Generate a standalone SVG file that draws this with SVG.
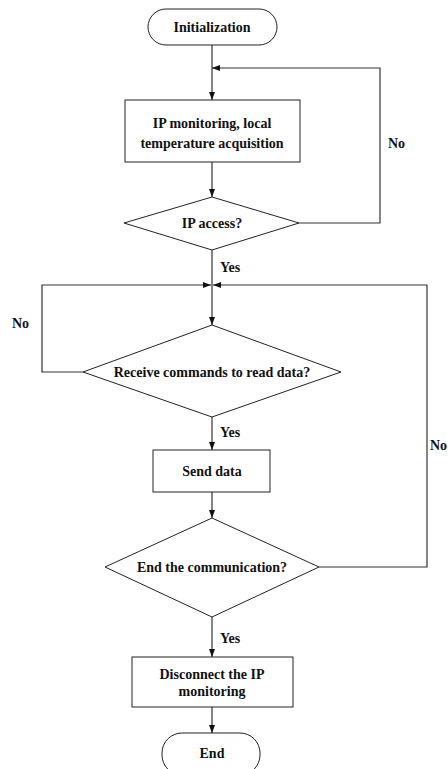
<svg xmlns="http://www.w3.org/2000/svg" width="448" height="769" viewBox="0 0 448 769">
<style>
.shape{fill:#fff;stroke:#222;stroke-width:1}
.t{font-family:"Liberation Serif","Times New Roman",serif;font-size:14px;font-weight:bold;fill:#111;text-anchor:middle}
.l{font-family:"Liberation Serif","Times New Roman",serif;font-size:14px;font-weight:bold;fill:#111}
.c{fill:none;stroke:#333;stroke-width:1.2}
</style>
<defs>
<marker id="ah" markerUnits="userSpaceOnUse" markerWidth="8" markerHeight="8" refX="8" refY="3" orient="auto">
<path d="M0,0 L8,3 L0,6 z" fill="#111"/>
</marker>
</defs>
<rect width="448" height="769" fill="#fff"/>
<g id="connectors">
<path class="c" d="M212,45 V100" marker-end="url(#ah)"/>
<path class="c" d="M299,223 H380 V68 H212" marker-end="url(#ah)"/>
<path class="c" d="M212,162 V197" marker-end="url(#ah)"/>
<path class="c" d="M212,250 V325" marker-end="url(#ah)"/>
<path class="c" d="M83,372 H42 V285 H211" marker-end="url(#ah)"/>
<path class="c" d="M319,567 H427 V285 H213" marker-end="url(#ah)"/>
<path class="c" d="M212,417 V450" marker-end="url(#ah)"/>
<path class="c" d="M212,492 V518" marker-end="url(#ah)"/>
<path class="c" d="M212,617 V657" marker-end="url(#ah)"/>
<path class="c" d="M212,707 V733" marker-end="url(#ah)"/>
<text class="l" x="388" y="148">No</text>
<text class="l" x="220" y="272">Yes</text>
<text class="l" x="12" y="328">No</text>
<text class="l" x="220" y="437">Yes</text>
<text class="l" x="430" y="450" font-size="13">No</text>
<text class="l" x="220" y="643">Yes</text>
</g>
<g id="init">
<rect class="shape" x="148" y="9" width="129" height="36" rx="18"/>
<text class="t" x="212" y="32">Initialization</text>
</g>
<g id="ipmon">
<rect class="shape" x="125" y="100" width="175" height="62"/>
<text class="t" x="212" y="128">IP monitoring, local</text>
<text class="t" x="212" y="148">temperature acquisition</text>
</g>
<g id="ipaccess">
<polygon class="shape" points="212,197 299,223 212,250 124,223"/>
<text class="t" x="212" y="228">IP access?</text>
</g>
<g id="receive">
<polygon class="shape" points="212,325 341,372 212,417 83,372"/>
<text class="t" x="212" y="377">Receive commands to read data?</text>
</g>
<g id="send">
<rect class="shape" x="153" y="450" width="117" height="42"/>
<text class="t" x="212" y="476">Send data</text>
</g>
<g id="endcomm">
<polygon class="shape" points="212,518 319,567 212,617 105,567"/>
<text class="t" x="212" y="572">End the communication?</text>
</g>
<g id="disconnect">
<rect class="shape" x="132" y="657" width="161" height="50"/>
<text class="t" x="212" y="679">Disconnect the IP</text>
<text class="t" x="212" y="696">monitoring</text>
</g>
<g id="end">
<rect class="shape" x="162" y="733" width="98" height="42" rx="20"/>
<text class="t" x="212" y="758">End</text>
</g>
</svg>
